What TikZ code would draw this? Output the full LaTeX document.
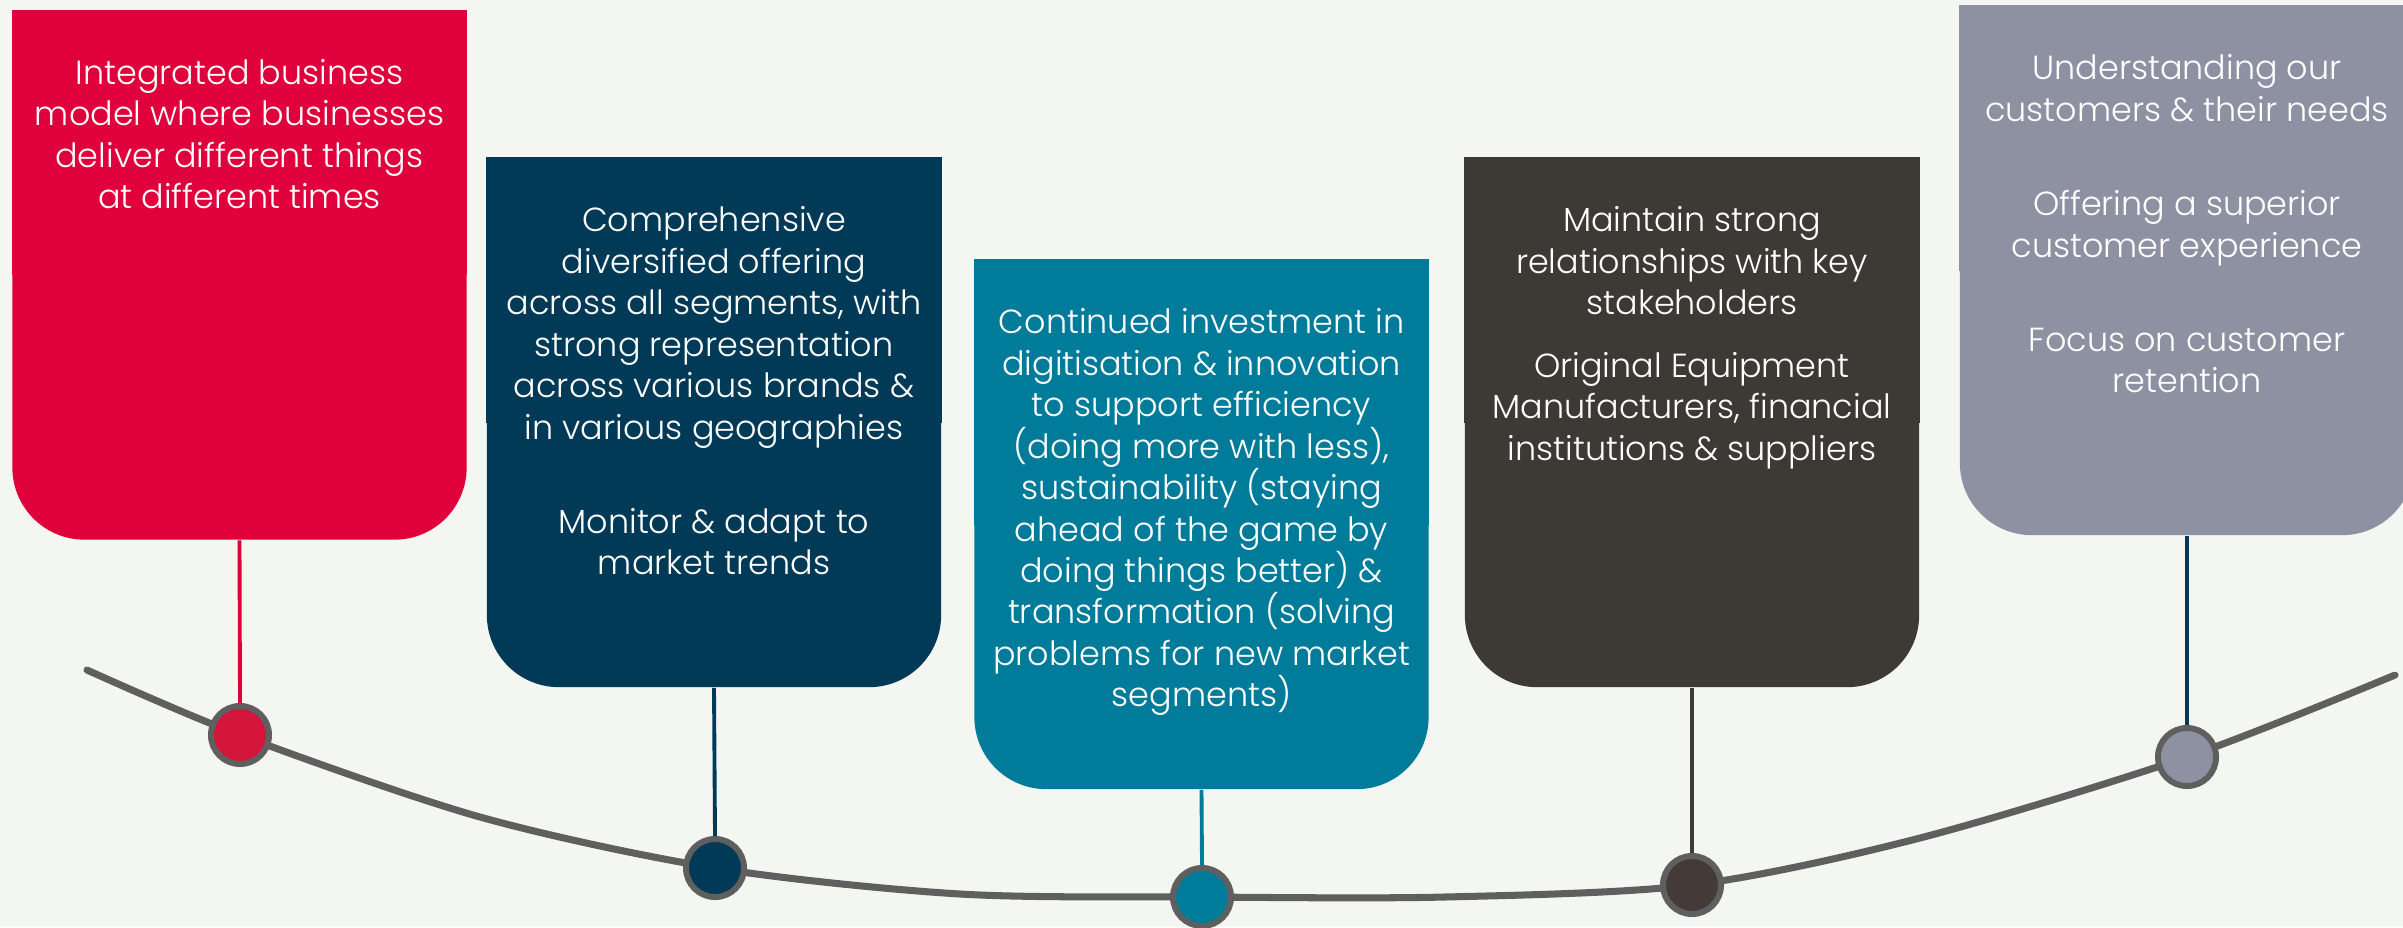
\documentclass[tikz,border=0pt]{standalone}
\usepackage{fontspec}
\setmainfont{Poppins}[UprightFont=* Light]
\usetikzlibrary{calc}
\definecolor{bg}{HTML}{F4F6F2}
\definecolor{cred}{HTML}{DF003C}
\definecolor{credDot}{HTML}{D4163A}
\definecolor{cnavy}{HTML}{003A57}
\definecolor{cteal}{HTML}{007C9A}
\definecolor{cdark}{HTML}{3D3935}
\definecolor{cdarkDot}{HTML}{443B38}
\definecolor{cgrey}{HTML}{8E91A2}
\definecolor{cline}{HTML}{5F5F5F}
\begin{document}
\begin{tikzpicture}[x=0.01cm, y=-0.01cm,
  panel/.style={rectangle, minimum width=4.54cm, minimum height=5.29cm, inner sep=0pt,
                rounded corners=0.72cm, fill=#1},
  blurb/.style={anchor=north, align=center, text=white, inner sep=0pt,
                font=\fontsize{9.5}{11.78}\selectfont},
  dot/.style={circle, minimum size=0.58cm, inner sep=0pt, draw=cline, line width=1.7pt, fill=#1},
  stem/.style={draw=#1, line width=1.1pt},
  track/.style={draw=cline, line width=2pt, line cap=round}]

% canvas
\fill[bg] (0,0) rectangle (2403,927);
\useasboundingbox (0,0) rectangle (2403,927);

% panels: square top corners, rounded bottom corners
\node[panel=cred]  (b1) at (239.5,275)   {};
\node[panel=cnavy] (b2) at (714,422.5)   {};
\node[panel=cteal] (b3) at (1201.5,524.5){};
\node[panel=cdark] (b4) at (1692,422.5)  {};
\node[panel=cgrey] (b5) at (2187,270.5)  {};
\fill[cred]  (b1.north west) rectangle (b1.east);
\fill[cnavy] (b2.north west) rectangle (b2.east);
\fill[cteal] (b3.north west) rectangle (b3.east);
\fill[cdark] (b4.north west) rectangle (b4.east);
\fill[cgrey] (b5.north west) rectangle (b5.east);

% panel texts
\node[blurb] (t1) at ($(b1.north)+(0,49)$)
  {Integrated business\\model where businesses\\deliver different things\\at different times};
\node[blurb] (t2) at ($(b2.north)+(0,49)$)
  {Comprehensive\\diversified offering\\across all segments, with\\strong representation\\across various brands \&\\in various geographies\\[15pt]
   Monitor \& adapt to\\market trends};
\node[blurb] (t3) at ($(b3.north)+(0,49)$)
  {Continued investment in\\digitisation \& innovation\\to support efficiency\\(doing more with less),\\sustainability (staying\\ahead of the game by\\doing things better) \&\\transformation (solving\\problems for new market\\segments)};
\node[blurb] (t4) at ($(b4.north)+(0,49)$)
  {Maintain strong\\relationships with key\\stakeholders\\[6pt]
   Original Equipment\\Manufacturers, financial\\institutions \& suppliers};
\node[blurb] (t5) at ($(b5.north)+(0,49)$)
  {Understanding our\\customers \& their needs\\[15pt]
   Offering a superior\\customer experience\\[15pt]
   Focus on customer\\retention};

% timeline track
\coordinate (p1) at (240,735);
\coordinate (p2) at (715,868);
\coordinate (p3) at (1202,897);
\coordinate (p4) at (1692,885);
\coordinate (p5) at (2187,757);
\coordinate (tl) at (87,670);
\coordinate (tr) at (2395,675);
\draw[track] plot[smooth] coordinates {(tl) (p1) (480,817) (p2) (960,894) (p3) (1445,897) (p4) (1920,838) (p5) (tr)};

% milestones
\node[dot=credDot]  (c1) at (p1) {};
\node[dot=cnavy]    (c2) at (p2) {};
\node[dot=cteal]    (c3) at (p3) {};
\node[dot=cdarkDot] (c4) at (p4) {};
\node[dot=cgrey]    (c5) at (p5) {};

% stems from panels to milestones
\draw[stem=cred]  (b1.south) -- (c1.north);
\draw[stem=cnavy] (b2.south) -- (c2.north);
\draw[stem=cteal] (b3.south) -- (c3.north);
\draw[stem=cdark] (b4.south) -- (c4.north);
\draw[stem=cnavy] (b5.south) -- (c5.north);
\end{tikzpicture}
\end{document}
